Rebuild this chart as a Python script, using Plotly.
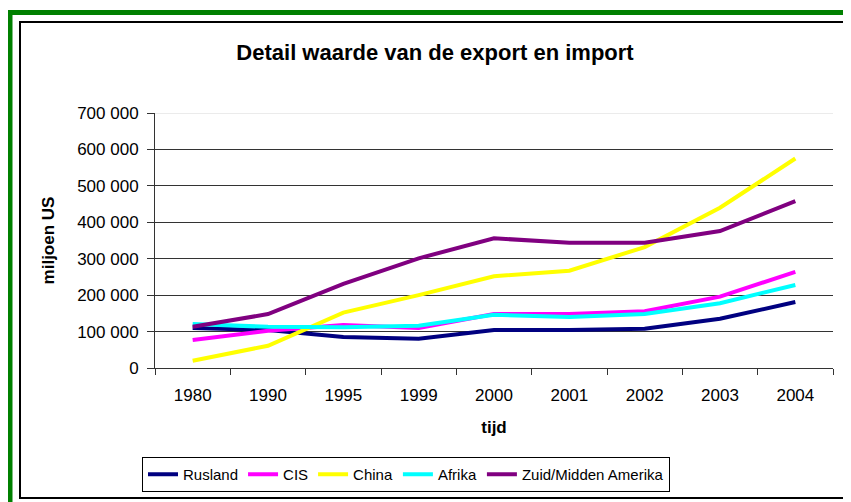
import plotly.graph_objects as go

years = ["1980", "1990", "1995", "1999", "2000", "2001", "2002", "2003", "2004"]

rusland = [110000, 104000, 85000, 80000, 104000, 104000, 108000, 135000, 181000]
cis = [77000, 102000, 118000, 110000, 148000, 148000, 156000, 196000, 264000]
china = [20000, 61000, 152000, 200000, 252000, 267000, 332000, 440000, 575000]
afrika = [121000, 113000, 112000, 116000, 146000, 140000, 148000, 178000, 228000]
zuid_midden_amerika = [113000, 148000, 231000, 301000, 356000, 344000, 344000, 376000, 458000]

series = [
    ("Rusland", rusland, "#000080"),
    ("CIS", cis, "#FF00FF"),
    ("China", china, "#FFFF00"),
    ("Afrika", afrika, "#00FFFF"),
    ("Zuid/Midden Amerika", zuid_midden_amerika, "#800080"),
]

y_ticks = [0, 100000, 200000, 300000, 400000, 500000, 600000, 700000]

# the page body has an 8px margin, so the figure is drawn 8px in from the corner
OFF = 8
W, H = 851 - OFF, 502 - OFF
L, R, T, B = 155 - OFF, 18, 113 - OFF, 134
FONT = "Liberation Sans, Arial, sans-serif"


def px_x(x):
    return (x - OFF - L) / (W - L - R)


def px_y(y):
    return (H - B - (y - OFF)) / (H - T - B)


fig = go.Figure()
for name, values, color in series:
    fig.add_trace(
        go.Scatter(
            x=years, y=values, mode="lines", name=name,
            line={"color": color, "width": 4},
        )
    )

green = {"color": "#008000", "width": 5}
shapes = [
    # outer green frame: only its top and left edges are in view
    dict(type="line", xref="paper", yref="paper",
         x0=px_x(7.5), x1=px_x(851), y0=px_y(12.5), y1=px_y(12.5),
         line=green, layer="above"),
    dict(type="line", xref="paper", yref="paper",
         x0=px_x(10), x1=px_x(10), y0=px_y(10), y1=px_y(502),
         line=green, layer="above"),
    # inner black frame
    dict(type="rect", xref="paper", yref="paper",
         x0=px_x(20), x1=px_x(846), y0=px_y(498), y1=px_y(22),
         line={"color": "#000000", "width": 2}, layer="above"),
    # faint top edge of plot area
    dict(type="line", xref="paper", yref="y",
         x0=0, x1=1, y0=700000, y1=700000,
         line={"color": "#d8d8d8", "width": 1}, layer="above"),
]

fig.update_layout(
    width=W, height=H,
    margin={"l": L, "r": R, "t": T, "b": B},
    paper_bgcolor="white", plot_bgcolor="white",
    font={"family": FONT, "size": 17, "color": "black"},
    separators=", ",
    title={
        "text": "<b>Detail waarde van de export en import</b>",
        "x": (435 - OFF) / W, "xanchor": "center",
        "y": 1 - (52 - OFF) / H, "yanchor": "middle",
        "font": {"size": 22, "family": FONT},
    },
    xaxis={
        "type": "category",
        "range": [-0.5, len(years) - 0.5],
        "showgrid": False,
        "showline": True, "linecolor": "#333333", "linewidth": 1,
        "ticks": "outside", "tickson": "boundaries", "ticklen": 6,
        "tickcolor": "#333333", "ticklabelstandoff": 12,
        "title": {"text": "<b>tijd</b>", "font": {"size": 17}, "standoff": 16},
    },
    yaxis={
        "range": [0, 700000],
        "tickvals": y_ticks,
        "tickformat": ",d",
        "showgrid": True, "gridcolor": "#333333", "gridwidth": 1,
        "zeroline": False,
        "showline": True, "linecolor": "#333333", "linewidth": 1,
        "ticks": "outside", "ticklen": 7, "tickcolor": "#333333",
        "ticklabelstandoff": 5,
        "title": {"text": "<b>miljoen US</b>", "font": {"size": 17}, "standoff": 18},
    },
    legend={
        "orientation": "h",
        "xref": "container", "yref": "container",
        "x": (406 - OFF) / W, "xanchor": "center",
        "y": 1 - (457 - OFF) / H, "yanchor": "top",
        "bordercolor": "black", "borderwidth": 1,
        "font": {"size": 15},
        "itemwidth": 30,
        "tracegroupgap": 0,
    },
    shapes=shapes,
)

fig.write_html("out.html")
